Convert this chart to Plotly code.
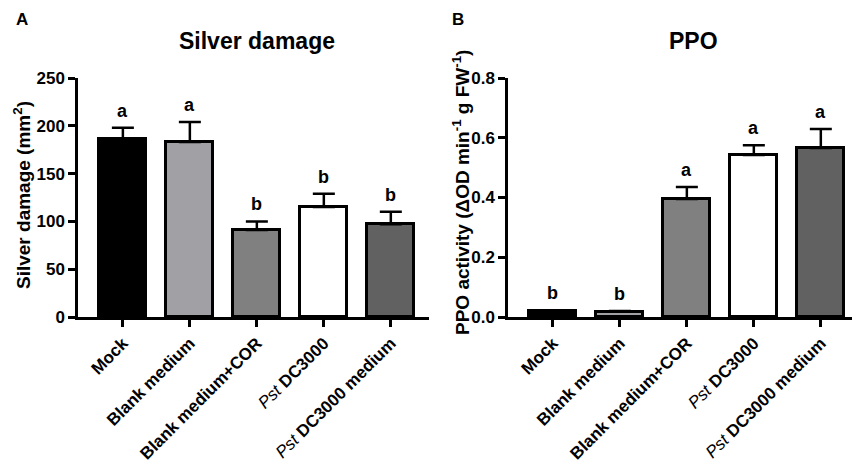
import plotly.graph_objects as go

categories = ["Mock", "Blank medium", "Blank medium+COR", "Pst DC3000", "Pst DC3000 medium"]
tick_labels = ["<b>Mock</b>", "<b>Blank medium</b>", "<b>Blank medium+COR</b>",
               "<i>Pst</i><b> DC3000</b>", "<i>Pst</i><b> DC3000 medium</b>"]
silver_mean = [186, 183, 91, 115, 97]
silver_err = [12, 21, 9, 14, 13]
silver_letters = ["a", "a", "b", "b", "b"]
ppo_mean = [0.02, 0.018, 0.395, 0.542, 0.566]
ppo_err = [0.002, 0.002, 0.04, 0.033, 0.063]
ppo_letters = ["b", "b", "a", "a", "a"]
bar_colors = ["#000000", "#a1a1a5", "#808080", "#ffffff", "#616161"]

FONT = "Arial, Liberation Sans, Helvetica, sans-serif"
xs = list(range(len(categories)))

fig = go.Figure()
fig.add_trace(go.Bar(
    x=xs, y=silver_mean, width=0.7, xaxis="x", yaxis="y",
    marker=dict(color=bar_colors, line=dict(color="black", width=3)),
    error_y=dict(type="data", array=silver_err, arrayminus=[0]*5, symmetric=False,
                 color="black", thickness=2.5, width=11),
    showlegend=False, hoverinfo="skip"))
fig.add_trace(go.Bar(
    x=xs, y=ppo_mean, width=0.7, xaxis="x2", yaxis="y2",
    marker=dict(color=bar_colors, line=dict(color="black", width=3)),
    error_y=dict(type="data", array=ppo_err, arrayminus=[0]*5, symmetric=False,
                 color="black", thickness=2.5, width=11),
    showlegend=False, hoverinfo="skip"))

# the page body has an 8px margin, so the figure is offset by 8px
OFF = 8
W, H = 860 - OFF, 463 - OFF
def px(x): return (x - OFF) / W
def py(y): return 1 - (y - OFF) / H

axis_common = dict(showgrid=False, zeroline=False, showline=True, linecolor="black",
                   linewidth=2.5, ticks="outside", ticklen=7, tickwidth=2.5, tickcolor="black",
                   automargin=False)
ytick_font = dict(family=FONT, size=17, color="black")
xtick_font = dict(family=FONT, size=17, color="black")

fig.update_layout(
    width=W, height=H, margin=dict(l=0, r=0, t=0, b=0),
    plot_bgcolor="white", paper_bgcolor="white", bargap=0,
    xaxis=dict(domain=[px(78), px(429)], range=[-0.67, 4.57], tickvals=xs, ticktext=tick_labels,
               tickangle=-45, anchor="y", tickfont=xtick_font, **axis_common),
    yaxis=dict(domain=[py(317), py(78)], range=[0, 250], dtick=50, anchor="x",
               tickfont=ytick_font, tickprefix="<b>", ticksuffix="</b>", **axis_common),
    xaxis2=dict(domain=[px(508), px(859)], range=[-0.67, 4.57], tickvals=xs, ticktext=tick_labels,
                tickangle=-45, anchor="y2", tickfont=xtick_font, **axis_common),
    yaxis2=dict(domain=[py(317), py(78)], range=[0, 0.8], dtick=0.2, tickformat=".1f", anchor="x2",
                tickfont=ytick_font, tickprefix="<b>", ticksuffix="</b>", **axis_common),
)

def label(x, y, text, size, angle=0):
    return dict(x=px(x), y=py(y), xref="paper", yref="paper", text=text, showarrow=False,
                xanchor="center", yanchor="middle", textangle=angle,
                font=dict(family=FONT, size=size, color="black"))

ann = []
for i in xs:
    ann.append(dict(x=i, y=silver_mean[i] + silver_err[i], xref="x", yref="y", text="<b>" + silver_letters[i] + "</b>",
                    showarrow=False, xanchor="center", yanchor="bottom", yshift=5,
                    font=dict(family=FONT, size=18, color="black")))
    ann.append(dict(x=i, y=ppo_mean[i] + ppo_err[i], xref="x2", yref="y2", text="<b>" + ppo_letters[i] + "</b>",
                    showarrow=False, xanchor="center", yanchor="bottom", yshift=5,
                    font=dict(family=FONT, size=18, color="black")))
ann.append(label(257, 41, "<b>Silver damage</b>", 23))
ann.append(label(693, 41, "<b>PPO</b>", 23))
ann.append(label(22, 19, "<b>A</b>", 17))
ann.append(label(458, 19, "<b>B</b>", 17))
ann.append(label(22, 195, "<b>Silver damage (mm<sup>2</sup>)</b>", 19, -90))
ann.append(label(461, 192, "<b>PPO activity (ΔOD min<sup>-1</sup> g FW<sup>-1</sup>)</b>", 19, -90))
fig.update_layout(annotations=ann)

fig.write_html("out.html")
